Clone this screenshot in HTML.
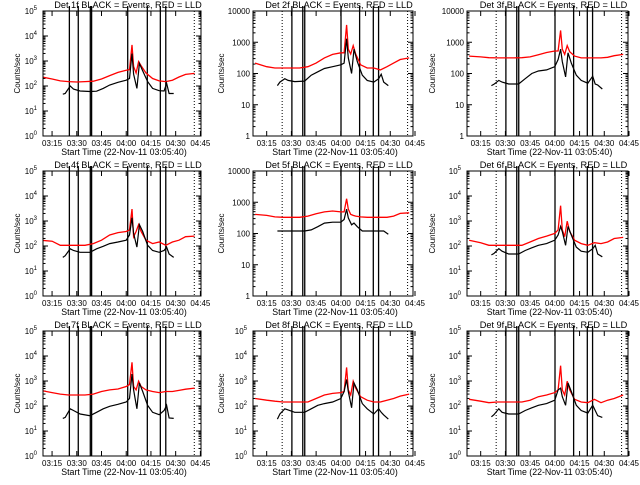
<!DOCTYPE html>
<html><head><meta charset="utf-8"><style>
body{margin:0;background:#fff;width:640px;height:480px;overflow:hidden}
svg text{font-family:"Liberation Sans",sans-serif;fill:#000}
</style></head><body>
<svg id="c" width="640" height="480" viewBox="0 0 640 480" xmlns="http://www.w3.org/2000/svg"></svg>
<script>
const detNames=["1f","2f","3f","4f","5f","6f","7f","8f","9f"];
const logDecades=[5,4,4,5,4,5,5,5,5];
const redTimes=[8,15,20,25,30,35,40,45,50,55,60,62,63.5,64.5,66,67.5,69,72,76,80,84,88,92,96,101.5];
const blackTimes=[21.5,23,26,28,32,38,42,46,50,55,60,62,63.5,64.5,66.5,68,70,73,76,80,83,84.5,86,88.8];
const red1=[235,190,160,150,145,150,155,190,260,350,430,450,4400,600,330,950,650,330,200,160,150,170,230,290,320];
const black1=[47,50,100,75,63,60,62,80,110,140,170,200,2000,300,80,800,400,150,80,65,63,130,50,50];
const red2=[215,165,150,150,150,150,165,215,315,410,460,460,3600,600,420,780,420,190,150,150,130,165,215,280,315];
const black2=[41,53,68,60,55,57,88,113,145,165,190,215,1300,315,100,600,240,88,60,53,68,95,53,41];
const red3=[360,340,320,315,315,315,320,340,400,470,525,525,2400,600,410,780,500,360,315,315,315,315,330,370,410];
const black3=[41,45,60,53,46,46,68,100,120,130,165,280,600,240,78,460,215,88,60,49,82,46,43,32];
const red4=[170,155,107,107,107,107,125,170,275,345,380,440,3000,235,380,720,380,170,125,145,107,145,170,235,250];
const black4=[35,41,77,66,56,56,77,97,125,145,170,275,1350,320,90,720,380,107,66,56,66,90,48,35];
const red5=[410,380,340,330,330,330,360,430,490,525,490,490,1300,600,410,380,360,340,330,330,330,330,360,440,460];
const black5=[120,120,120,120,120,120,130,165,215,230,230,280,600,315,190,215,165,120,120,120,120,120,120,95];
const red6=[170,135,107,107,107,107,107,145,200,250,320,440,4100,440,235,980,380,170,125,107,135,125,145,200,220];
const black6=[44,50,78,62,48,48,66,85,107,125,170,275,610,380,107,610,275,90,62,56,77,107,48,37];
const red7=[420,345,300,275,275,275,300,380,440,480,600,720,5600,600,440,980,600,440,380,345,380,380,420,470,520];
const black7=[32,35,77,66,48,41,56,77,97,117,145,200,1900,440,77,830,380,107,56,45,66,107,33,32];
const red8=[200,170,155,145,145,145,145,200,275,320,345,380,3500,440,275,980,520,235,170,145,145,170,200,250,300];
const black8=[30,48,77,70,56,56,77,107,125,145,200,380,1150,380,85,830,440,125,77,48,77,56,44,30];
const red9=[185,155,135,145,145,145,145,170,235,275,345,440,4100,440,275,980,440,185,145,135,185,135,170,200,275];
const black9=[37,45,77,56,48,48,66,85,107,125,170,440,520,235,107,830,380,107,66,52,107,66,41,35];
const redSeries=[red1,red2,red3,red4,red5,red6,red7,red8,red9];
const blackSeries=[black1,black2,black3,black4,black5,black6,black7,black8,black9];
const xTickMinutes=[15,30,45,60,75,90,105];
const xTickLabels=["03:15","03:30","03:45","04:00","04:15","04:30","04:45"];
const markerTimesCol1=[25.5,30.9,38.2,39.0,60.9,72.8,80.7,84.0,101.3];
const markerTimesCol23=[24.4,30.3,36.9,38.1,60.1,71.4,79.7,82.9,100.5];
const markerDottedCol1=[0,0,0,0,0,0,0,0,1];
const markerDottedCol23=[1,0,0,0,0,0,0,0,1];

const svg=document.getElementById('c');
const NS="http://www.w3.org/2000/svg";
function mk(tag,attrs,parent){const e=document.createElementNS(NS,tag);for(const k in attrs)e.setAttribute(k,attrs[k]);(parent||svg).appendChild(e);return e;}
const colL=[43,253,467],colW=[158,160,161],colXmin=[9.5,6.7,6.7],pxPerMin=1.648,H=125;
for(let p=0;p<9;p++){
  const col=p%3,row=Math.floor(p/3);
  const L=colL[col],W=colW[col],T=11+160*row,B=T+H,xmin=colXmin[col];
  const dec=logDecades[p];
  const xs=t=>L+(t-xmin)*pxPerMin;
  const ys=v=>B-Math.log10(v)/dec*H;
  const g=mk('g',{});
  
  
  const clipId='cl'+p;
  const cp=mk('clipPath',{id:clipId},g);mk('rect',{x:L,y:T,width:W,height:H},cp);
  const ti=mk('text',{x:L+W/2+6,y:T-3,'text-anchor':'middle','font-size':'9.2'},g);
  ti.textContent="Det "+detNames[p]+" BLACK = Events, RED = LLD";
  
  
  xTickMinutes.forEach((m,i)=>{
    const x=xs(m); if(x<L-1||x>L+W+3)return;
    mk('line',{x1:x,y1:B,x2:x,y2:B-5,stroke:'#000','stroke-width':1},g);
    mk('line',{x1:x,y1:T,x2:x,y2:T+5,stroke:'#000','stroke-width':1},g);
    const tl=mk('text',{x:x,y:B+10,'text-anchor':'middle','font-size':'8'},g);
    tl.textContent=xTickLabels[i];
    
    
  });
  const xt=mk('text',{x:L+W/2+2,y:B+19,'text-anchor':'middle','font-size':'8.8'},g);
  xt.textContent="Start Time (22-Nov-11 03:05:40)";
  
  
  for(let d=0;d<=dec;d++){
    const y=ys(Math.pow(10,d));
    mk('line',{x1:L,y1:y,x2:L+5,y2:y,stroke:'#000'},g);
    mk('line',{x1:L+W,y1:y,x2:L+W-5,y2:y,stroke:'#000'},g);
    if(d<dec)for(let k=2;k<10;k++){const yy=ys(k*Math.pow(10,d));
      mk('line',{x1:L,y1:yy,x2:L+2.5,y2:yy,stroke:'#000'},g);
      mk('line',{x1:L+W,y1:yy,x2:L+W-2.5,y2:yy,stroke:'#000'},g);}
    const yl=mk('text',{x:L-3,y:y+3,'text-anchor':'end','font-size':'8'},g);
    
    
    if(dec===4){yl.textContent=String(Math.pow(10,d));}
    else{yl.setAttribute('x',L-6);yl.textContent="10";
      const s=mk('tspan',{dy:-4,'font-size':'6'},yl);s.textContent=String(d);}
  }
  const ylx=[20,224,435][col];
  const yt=mk('text',{x:ylx,y:T+H/2,'text-anchor':'middle','font-size':'8',transform:'rotate(-90 '+ylx+' '+(T+H/2)+')'},g);
  yt.textContent="Counts/sec";
  
  
  const mt=col===0?markerTimesCol1:markerTimesCol23, md=col===0?markerDottedCol1:markerDottedCol23;
  mt.forEach((t,i)=>{const x=xs(t);
    const ln=mk('line',{x1:x,y1:(md[i]?T:T-5),x2:x,y2:B,stroke:'#000','stroke-width':md[i]?1:1.3,'stroke-dasharray':md[i]?'1,2':'none'},g);
    
    });
  const rp=redTimes.map((t,i)=>xs(t).toFixed(1)+','+ys(redSeries[p][i]).toFixed(1)).join(' ');
  const r=mk('polyline',{points:rp,fill:'none',stroke:'#ff0000','stroke-width':1.3,'clip-path':'url(#'+clipId+')'},g);
  
  
  const bp=blackTimes.map((t,i)=>xs(t).toFixed(1)+','+ys(blackSeries[p][i]).toFixed(1)).join(' ');
  const b=mk('polyline',{points:bp,fill:'none',stroke:'#000','stroke-width':1.2,'clip-path':'url(#'+clipId+')'},g);
  
  
  const box=mk('rect',{x:L,y:T,width:W,height:H,fill:'none',stroke:'#000','stroke-width':1},g);
  
  
}
</script>
</body></html>
